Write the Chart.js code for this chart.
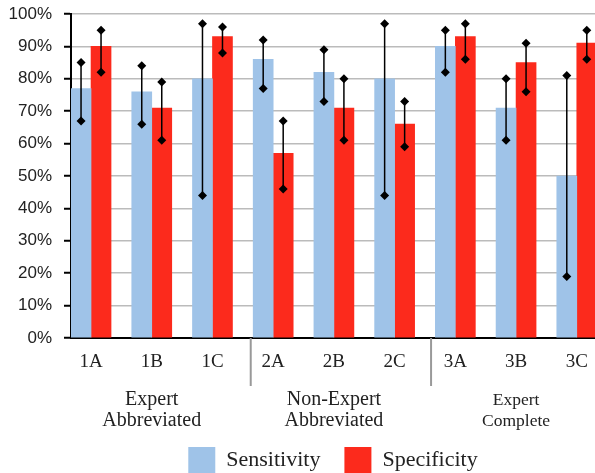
<!DOCTYPE html>
<html>
<head>
<meta charset="utf-8">
<script src="https://cdn.jsdelivr.net/npm/chart.js@4"></script>
<style>
  html, body { margin: 0; padding: 0; background: #fff; overflow: hidden; }
</style>
</head>
<body>
<canvas id="chart" width="595" height="473"></canvas>
<script>
// categories and groups
const categories = ['1A', '1B', '1C', '2A', '2B', '2C', '3A', '3B', '3C'];
const groupLabels = [['Expert', 'Abbreviated'], ['Non-Expert', 'Abbreviated'], ['Expert', 'Complete']];
const groupCenters = [1, 4, 7];     // middle category of each group
const separators = [2.63, 5.6];     // gray lines under the axis

// values in %
const sensitivity = [77, 76, 80, 86, 82, 80, 90, 71, 50];
const sensLow     = [67, 66, 44, 77, 73, 44, 82, 61, 19];
const sensHigh    = [85, 84, 97, 92, 89, 97, 95, 80, 81];
const specificity = [90, 71, 93, 57, 71, 66, 93, 85, 91];
const specLow     = [82, 61, 88, 46, 61, 59, 86, 76, 86];
const specHigh    = [95, 79, 96, 67, 80, 73, 97, 91, 95];

const yTickLabels = ['0%', '10%', '20%', '30%', '40%', '50%', '60%', '70%', '80%', '90%', '100%'];

const BLUE = '#9fc3e8';
const RED = '#fc2a1c';
const SERIF = 'Liberation Serif';

// error bars + separators + group names
const extras = {
  id: 'extras',
  afterDatasetsDraw(chart) {
    const { ctx, scales: { y } } = chart;
    const lows = [sensLow, specLow];
    const highs = [sensHigh, specHigh];
    ctx.save();
    ctx.strokeStyle = '#000';
    ctx.fillStyle = '#000';
    ctx.lineWidth = 1.5;
    [0, 1].forEach(d => {
      chart.getDatasetMeta(d).data.forEach((bar, i) => {
        const yl = y.getPixelForValue(lows[d][i]);
        const yh = y.getPixelForValue(highs[d][i]);
        ctx.beginPath();
        ctx.moveTo(bar.x, yl);
        ctx.lineTo(bar.x, yh);
        ctx.stroke();
        [yl, yh].forEach(py => {
          ctx.beginPath();
          ctx.moveTo(bar.x, py - 4.5);
          ctx.lineTo(bar.x + 4.5, py);
          ctx.lineTo(bar.x, py + 4.5);
          ctx.lineTo(bar.x - 4.5, py);
          ctx.closePath();
          ctx.fill();
        });
      });
    });
    ctx.restore();
  },
  afterDraw(chart) {
    const { ctx, chartArea, scales: { x } } = chart;
    ctx.save();
    ctx.strokeStyle = '#999';
    ctx.lineWidth = 2;
    separators.forEach(v => {
      const px = x.getPixelForValue(v);
      ctx.beginPath();
      ctx.moveTo(px, chartArea.bottom);
      ctx.lineTo(px, chartArea.bottom + 48);
      ctx.stroke();
    });
    ctx.fillStyle = '#222';
    ctx.textAlign = 'center';
    ctx.textBaseline = 'middle';
    groupLabels.forEach((lines, g) => {
      const px = x.getPixelForValue(groupCenters[g]);
      ctx.font = (g === 2 ? 17.5 : 20) + 'px "' + SERIF + '"';
      lines.forEach((t, k) => {
        ctx.fillText(t, px, chartArea.bottom + 62 + k * 21);
      });
    });
    ctx.restore();
  }
};

new Chart(document.getElementById('chart'), {
  type: 'bar',
  data: {
    datasets: [
      {
        label: 'Sensitivity',
        data: sensitivity.map((v, i) => ({ x: i, y: v })),
        backgroundColor: BLUE,
        borderWidth: 0,
        barThickness: 20
      },
      {
        label: 'Specificity',
        data: specificity.map((v, i) => ({ x: i, y: v })),
        backgroundColor: RED,
        borderWidth: 0,
        barThickness: 20
      }
    ]
  },
  options: {
    responsive: false,
    animation: false,
    layout: { padding: { top: 14, left: 8, right: 0, bottom: 0 } },
    scales: {
      x: {
        type: 'linear',
        min: -0.33,
        max: 8.3,
        offset: false,
        grid: { display: false, drawTicks: false },
        border: { display: true, color: '#000', width: 2 },
        ticks: {
          padding: 13,
          autoSkip: false,
          maxRotation: 0,
          color: '#222',
          font: { family: SERIF, size: 19 },
          callback: v => categories[v] ?? ''
        },
        afterBuildTicks: s => { s.ticks = categories.map((c, i) => ({ value: i })); },
        afterFit: s => { s.height = 85; s.paddingLeft = 0; s.paddingRight = 0; }
      },
      y: {
        min: 0,
        max: 100,
        ticks: {
          stepSize: 10,
          padding: 12,
          color: '#222',
          font: { family: 'Liberation Sans', size: 17 },
          callback: v => yTickLabels[Math.round(v / 10)]
        },
        grid: { color: '#bbbbbb', lineWidth: 1.5, tickColor: '#000', tickLength: 7, tickWidth: 2 },
        border: { color: '#000', width: 2 },
        afterFit: s => { s.width = 63; s.paddingTop = 0; s.paddingBottom = 0; }
      }
    },
    plugins: {
      tooltip: { enabled: false },
      legend: {
        position: 'bottom',
        fullSize: false,
        maxHeight: 50,
        labels: {
          boxWidth: 27,
          boxHeight: 26,
          padding: 24,
          color: '#222',
          font: { family: SERIF, size: 22 }
        }
      }
    }
  },
  plugins: [extras]
});
</script>
</body>
</html>
